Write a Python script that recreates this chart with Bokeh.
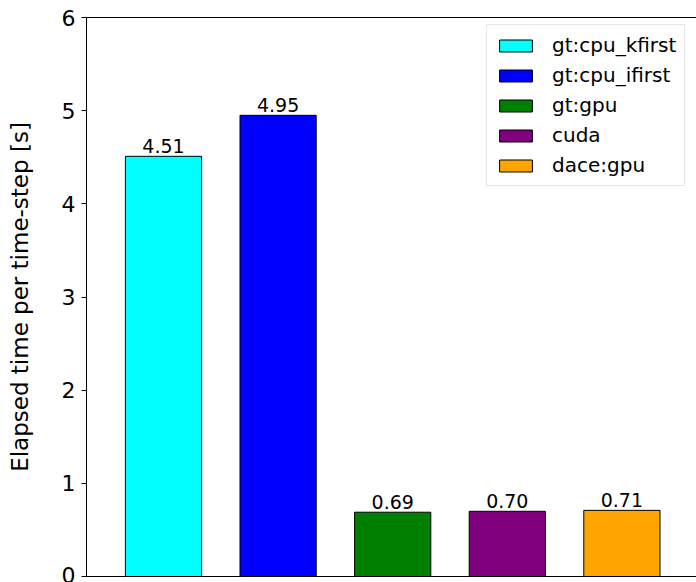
from bokeh.plotting import figure
from bokeh.models import (ColumnDataSource, FixedTicker, Range1d, LinearAxis,
                          Legend, LegendItem)
from bokeh.core.properties import value
from bokeh.embed import file_html
from bokeh.resources import INLINE

# ---- data ----
categories = ["gt:cpu_kfirst", "gt:cpu_ifirst", "gt:gpu", "cuda", "dace:gpu"]
times = [4.51, 4.95, 0.69, 0.70, 0.71]
colors = ["cyan", "blue", "green", "purple", "orange"]
y_ticks = [0, 1, 2, 3, 4, 5, 6]

FONT = "DejaVu Sans"

xs = list(range(len(categories)))
src = ColumnDataSource(dict(
    x=xs, top=times, color=colors, cat=categories,
    label=[f"{v:.2f}" for v in times],
))

p = figure(width=696, height=582, output_backend="svg", toolbar_location=None,
           x_range=Range1d(-0.672, 4.651), y_range=Range1d(0, 6),
           x_axis_location=None, y_axis_location="left")
p.min_border_left = 86
p.min_border_top = 17
p.min_border_right = 0
p.min_border_bottom = 6
p.outline_line_color = None
p.xgrid.visible = False
p.ygrid.visible = False
p.background_fill_color = "white"
p.border_fill_color = "white"

bars = p.vbar(x="x", top="top", width=0.665, bottom=0, source=src,
              fill_color="color", line_color="black", line_width=1)

p.text(x="x", y="top", text="label", source=src,
       text_align="center", text_baseline="bottom", y_offset=-3,
       text_font=value(FONT), text_font_size="19px", text_color="black")

# y axis
ya = p.yaxis[0]
ya.ticker = FixedTicker(ticks=y_ticks)
ya.axis_label = "Elapsed time per time-step [s]"
ya.axis_label_text_font = FONT
ya.axis_label_text_font_size = "23px"
ya.axis_label_text_font_style = "normal"
ya.axis_label_text_color = "black"
ya.axis_label_standoff = 26
ya.major_label_text_font = FONT
ya.major_label_text_font_size = "22px"
ya.major_label_text_color = "black"
ya.major_label_standoff = 6
ya.major_tick_out = 5
ya.major_tick_in = 0
ya.minor_tick_out = 0
ya.minor_tick_in = 0
ya.axis_line_color = "black"
ya.major_tick_line_color = "black"

# bottom and top spines
for loc in ("below", "above"):
    ax = LinearAxis(ticker=FixedTicker(ticks=[]), major_label_text_font_size="0px",
                    major_tick_out=0, major_tick_in=0, minor_tick_out=0, minor_tick_in=0,
                    axis_line_color="black", major_label_standoff=0)
    p.add_layout(ax, loc)

items = [LegendItem(label=c, renderers=[bars], index=i) for i, c in enumerate(categories)]
legend = Legend(items=items, location=(400, 390))
legend.label_text_font = FONT
legend.label_text_font_size = "20px"
legend.label_text_color = "black"
legend.glyph_width = 41
legend.glyph_height = 15
legend.label_height = 20
legend.label_standoff = 16
legend.padding = 8
legend.spacing = 6
legend.margin = 0
legend.border_line_color = "#cccccc"
legend.border_line_width = 1
legend.background_fill_alpha = 0.8
p.add_layout(legend, "center")

open("out.html", "w").write(file_html(p, INLINE))
